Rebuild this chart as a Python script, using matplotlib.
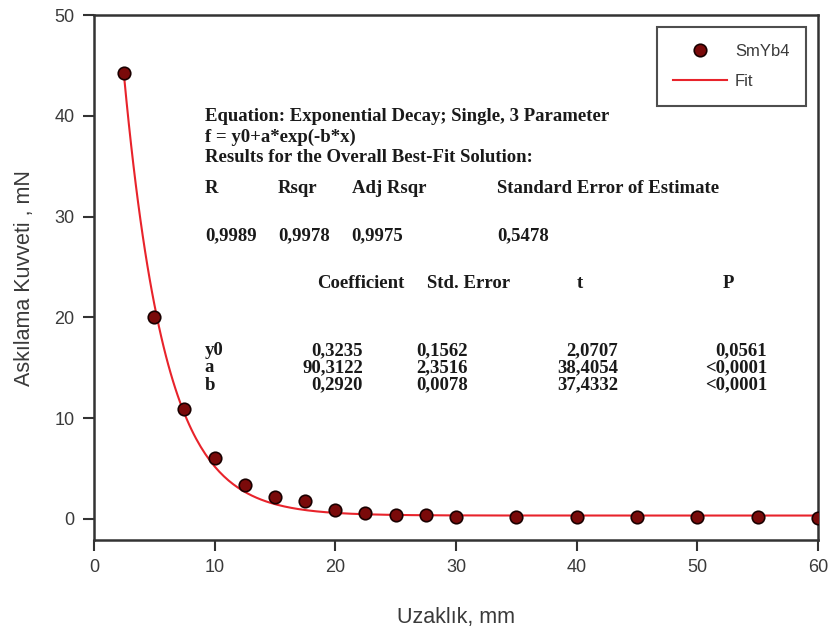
import numpy as np
import matplotlib.pyplot as plt

# Measured force vs distance for SmYb4
distance = [2.5, 5, 7.5, 10, 12.5, 15, 17.5, 20, 22.5, 25, 27.5, 30, 35, 40, 45, 50, 55, 60]
force = [44.3, 20.0, 10.9, 6.0, 3.4, 2.2, 1.8, 0.85, 0.55, 0.35, 0.35, 0.2, 0.2, 0.15, 0.2, 0.2, 0.15, 0.1]

# Exponential decay fit parameters: f = y0 + a*exp(-b*x)
y0, a, b = 0.3235, 90.3122, 0.2920

stats_names = ['R', 'Rsqr', 'Adj Rsqr', 'Standard Error of Estimate']
stats_values = ['0,9989', '0,9978', '0,9975', '0,5478']
param_names = ['y0', 'a', 'b']
param_coef = ['0,3235', '90,3122', '0,2920']
param_stderr = ['0,1562', '2,3516', '0,0078']
param_t = ['2,0707', '38,4054', '37,4332']
param_p = ['0,0561', '<0,0001', '<0,0001']

plt.rcParams['font.family'] = ['Liberation Sans', 'DejaVu Sans']

fig = plt.figure(figsize=(8.32, 6.33), dpi=100)
ax = fig.add_axes([0.113, 0.147, 0.870, 0.829])

xfit = np.linspace(min(distance), max(distance), 300)
yfit = y0 + a * np.exp(-b * xfit)

ax.plot(distance, force, linestyle='none', marker='o', markersize=9,
        markerfacecolor='#7a0a0a', markeredgecolor='#1a0000', markeredgewidth=1.2,
        label='SmYb4', zorder=3)
ax.plot(xfit, yfit, color='#e8232b', linewidth=1.5, label='Fit', zorder=2)

ax.set_xlim(0, 60)
ax.set_ylim(-2.1, 50)
ax.set_xticks(range(0, 61, 10))
ax.set_yticks(range(0, 51, 10))
ax.tick_params(direction='out', length=8, width=1.5, labelsize=13,
               labelcolor='#3a3a3a', color='#333333', top=False, right=False, pad=6)
for s in ax.spines.values():
    s.set_linewidth(1.8)
    s.set_color('#333333')

ax.set_xlabel('Uzaklık, mm', fontsize=15.5, color='#3a3a3a', labelpad=22)
ax.set_ylabel('Askılama Kuvveti , mN', fontsize=15.5, color='#3a3a3a', labelpad=14)

leg = ax.legend(loc='upper right', bbox_to_anchor=(0.984, 0.977), fancybox=False,
                edgecolor='#222222', fontsize=12, handlelength=3.2, borderpad=1.0,
                labelspacing=0.9, handletextpad=0.5, borderaxespad=0)
leg.get_frame().set_linewidth(1.5)
for t in leg.get_texts():
    t.set_color('#3a3a3a')

# Fit report text
tkw = dict(transform=ax.transAxes, family=['Liberation Serif', 'DejaVu Serif'],
           fontweight='bold', fontsize=13.5, color='#1a1a1a', va='center')
ax.text(0.153, 0.806, 'Equation: Exponential Decay; Single, 3 Parameter', **tkw)
ax.text(0.153, 0.767, 'f = y0+a*exp(-b*x)', **tkw)
ax.text(0.153, 0.728, 'Results for the Overall Best-Fit Solution:', **tkw)

stat_cols = [0.153, 0.254, 0.356, 0.557]
for x, name, val in zip(stat_cols, stats_names, stats_values):
    ax.text(x, 0.670, name, **tkw)
    ax.text(x, 0.579, val, **tkw)

ax.text(0.308, 0.488, 'Coefficient', **tkw)
ax.text(0.460, 0.488, 'Std. Error', **tkw)
ax.text(0.671, 0.488, 't', ha='center', **tkw)
ax.text(0.877, 0.488, 'P', ha='center', **tkw)

row_y = [0.361, 0.328, 0.295]
for y, n, c, se, t, p in zip(row_y, param_names, param_coef, param_stderr, param_t, param_p):
    ax.text(0.153, y, n, **tkw)
    ax.text(0.3715, y, c, ha='right', **tkw)
    ax.text(0.5166, y, se, ha='right', **tkw)
    ax.text(0.7238, y, t, ha='right', **tkw)
    ax.text(0.9296, y, p, ha='right', **tkw)

fig.savefig('out.png', dpi=100)
